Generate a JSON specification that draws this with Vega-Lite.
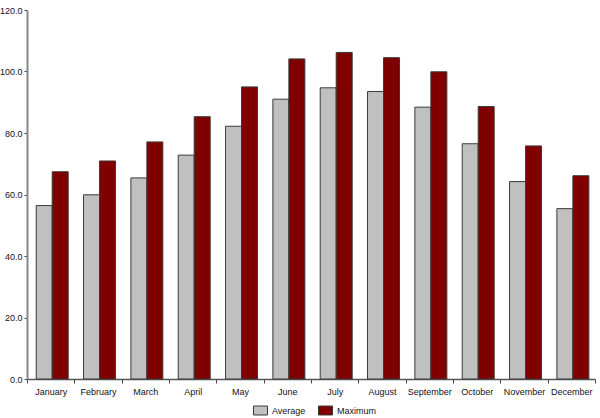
{
  "$schema": "https://vega.github.io/schema/vega-lite/v6.json",
  "width": 568,
  "height": 369,
  "autosize": "none",
  "padding": {"left": 27, "top": 10, "right": 5, "bottom": 39},
  "background": "white",
  "data": {
    "values": [
      {"month": "January", "series": "Average", "value": 56.4},
      {"month": "January", "series": "Maximum", "value": 67.4},
      {"month": "February", "series": "Average", "value": 59.9},
      {"month": "February", "series": "Maximum", "value": 70.9},
      {"month": "March", "series": "Average", "value": 65.4},
      {"month": "March", "series": "Maximum", "value": 77.1},
      {"month": "April", "series": "Average", "value": 72.8},
      {"month": "April", "series": "Maximum", "value": 85.3},
      {"month": "May", "series": "Average", "value": 82.2},
      {"month": "May", "series": "Maximum", "value": 95.0},
      {"month": "June", "series": "Average", "value": 91.0},
      {"month": "June", "series": "Maximum", "value": 104.1},
      {"month": "July", "series": "Average", "value": 94.7},
      {"month": "July", "series": "Maximum", "value": 106.2},
      {"month": "August", "series": "Average", "value": 93.5},
      {"month": "August", "series": "Maximum", "value": 104.5},
      {"month": "September", "series": "Average", "value": 88.4},
      {"month": "September", "series": "Maximum", "value": 99.9},
      {"month": "October", "series": "Average", "value": 76.5},
      {"month": "October", "series": "Maximum", "value": 88.6},
      {"month": "November", "series": "Average", "value": 64.2},
      {"month": "November", "series": "Maximum", "value": 75.8},
      {"month": "December", "series": "Average", "value": 55.4},
      {"month": "December", "series": "Maximum", "value": 66.1}
    ]
  },
  "config": {
    "view": {"stroke": null},
    "font": "Liberation Sans"
  },
  "mark": {"type": "bar", "stroke": "#3a3a3a", "strokeWidth": 1},
  "encoding": {
    "x": {
      "field": "month",
      "type": "nominal",
      "sort": null,
      "scale": {"paddingInner": 0, "paddingOuter": 0},
      "axis": {
        "title": null,
        "labelAngle": 0,
        "labelFontSize": 9,
        "labelColor": "#111122",
        "labelPadding": 4,
        "tickBand": "extent",
        "tickSize": 4,
        "tickColor": "#444",
        "domainColor": "#555",
        "domainWidth": 1.5
      }
    },
    "xOffset": {
      "field": "series",
      "type": "nominal",
      "scale": {"paddingInner": 0, "paddingOuter": 0.48, "align": 0.6}
    },
    "y": {
      "field": "value",
      "type": "quantitative",
      "scale": {"domain": [0, 120], "nice": false},
      "axis": {
        "title": null,
        "values": [0, 20, 40, 60, 80, 100, 120],
        "format": ".1f",
        "grid": false,
        "labelFontSize": 9,
        "labelColor": "#111122",
        "labelPadding": 2,
        "tickSize": 3,
        "tickColor": "#444",
        "domainColor": "#888",
        "domainWidth": 2
      }
    },
    "fill": {
      "field": "series",
      "type": "nominal",
      "scale": {"domain": ["Average", "Maximum"], "range": ["#c0c0c0", "#800000"]},
      "legend": {
        "title": null,
        "orient": "none",
        "direction": "horizontal",
        "legendX": 226,
        "legendY": 393,
        "symbolType": "M-1,-0.64H1V0.64H-1Z",
        "symbolSize": 196,
        "symbolStrokeColor": "#3a3a3a",
        "symbolStrokeWidth": 1,
        "labelFontSize": 9,
        "labelColor": "#111122",
        "labelOffset": 4,
        "columnPadding": 10
      }
    }
  }
}
